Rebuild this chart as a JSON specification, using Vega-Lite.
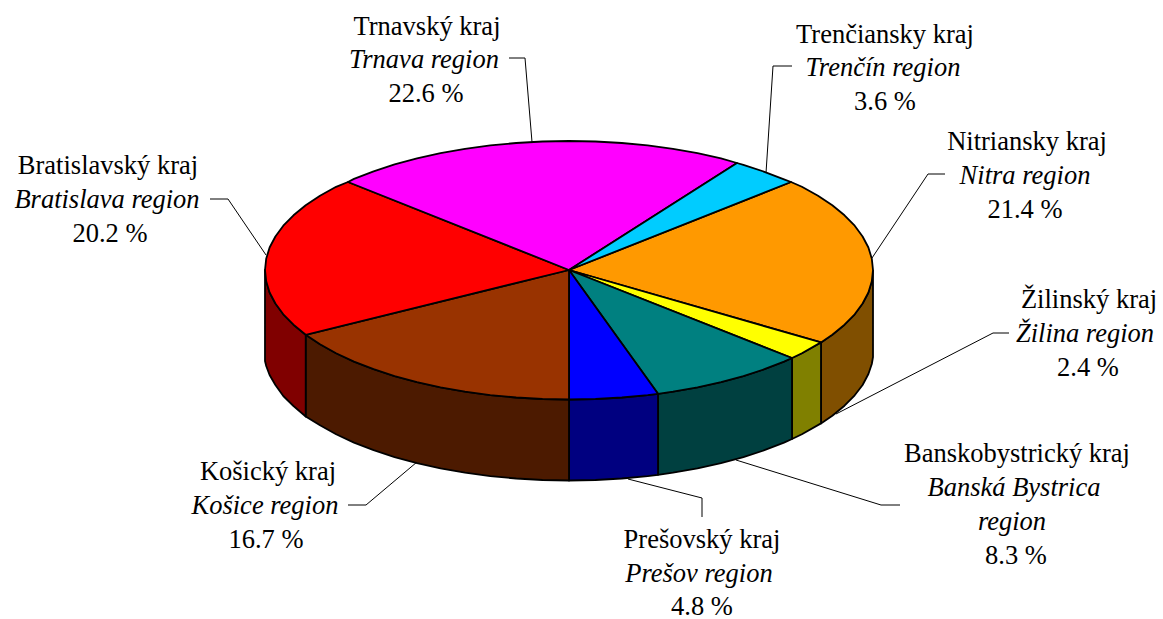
{"$schema":"https://vega.github.io/schema/vega-lite/v6.json","width":1163,"height":619,"padding":0,"autosize":{"type":"none"},"background":"white","view":{"stroke":null},
"datasets":{
"pie":[
{"s":"Nitra side","n":1,"x":873,"y":270},{"s":"Nitra side","n":2,"x":871.8,"y":281.3},{"s":"Nitra side","n":3,"x":868.4,"y":292.5},{"s":"Nitra side","n":4,"x":862.6,"y":303.5},{"s":"Nitra side","n":5,"x":854.7,"y":314.3},{"s":"Nitra side","n":6,"x":844.5,"y":324.7},{"s":"Nitra side","n":7,"x":832.3,"y":334.8},{"s":"Nitra side","n":8,"x":821,"y":342.4},{"s":"Nitra side","n":9,"x":821,"y":423.4},{"s":"Nitra side","n":10,"x":832.3,"y":415.8},{"s":"Nitra side","n":11,"x":844.5,"y":405.7},{"s":"Nitra side","n":12,"x":854.7,"y":395.3},{"s":"Nitra side","n":13,"x":862.6,"y":385},{"s":"Nitra side","n":14,"x":868.4,"y":374},{"s":"Nitra side","n":15,"x":871.8,"y":364},{"s":"Nitra side","n":16,"x":873,"y":357},{"s":"Nitra side","n":17,"x":873,"y":270},
{"s":"Zilina side","n":1,"x":821,"y":342.4},{"s":"Zilina side","n":2,"x":801.9,"y":353.2},{"s":"Zilina side","n":3,"x":792,"y":358},{"s":"Zilina side","n":4,"x":792,"y":439},{"s":"Zilina side","n":5,"x":801.9,"y":434.2},{"s":"Zilina side","n":6,"x":821,"y":423.4},{"s":"Zilina side","n":7,"x":821,"y":342.4},
{"s":"BB side","n":1,"x":792,"y":358},{"s":"BB side","n":2,"x":784,"y":361.6},{"s":"BB side","n":3,"x":764.4,"y":369.2},{"s":"BB side","n":4,"x":743.4,"y":376.1},{"s":"BB side","n":5,"x":721,"y":382.1},{"s":"BB side","n":6,"x":697.5,"y":387.4},{"s":"BB side","n":7,"x":673,"y":391.7},{"s":"BB side","n":8,"x":658,"y":393.8},{"s":"BB side","n":9,"x":658,"y":474.8},{"s":"BB side","n":10,"x":673,"y":472.7},{"s":"BB side","n":11,"x":697.5,"y":468.4},{"s":"BB side","n":12,"x":721,"y":463.1},{"s":"BB side","n":13,"x":743.4,"y":457.1},{"s":"BB side","n":14,"x":764.4,"y":450.2},{"s":"BB side","n":15,"x":784,"y":442.6},{"s":"BB side","n":16,"x":792,"y":439},{"s":"BB side","n":17,"x":792,"y":358},
{"s":"Presov side","n":1,"x":658,"y":393.8},{"s":"Presov side","n":2,"x":647.7,"y":395.1},{"s":"Presov side","n":3,"x":621.8,"y":397.5},{"s":"Presov side","n":4,"x":595.5,"y":399},{"s":"Presov side","n":5,"x":569,"y":399.5},{"s":"Presov side","n":6,"x":569,"y":480.5},{"s":"Presov side","n":7,"x":595.5,"y":480},{"s":"Presov side","n":8,"x":621.8,"y":478.5},{"s":"Presov side","n":9,"x":647.7,"y":476.1},{"s":"Presov side","n":10,"x":658,"y":474.8},{"s":"Presov side","n":11,"x":658,"y":393.8},
{"s":"Kosice side","n":1,"x":569,"y":399.5},{"s":"Kosice side","n":2,"x":542.5,"y":399},{"s":"Kosice side","n":3,"x":516.2,"y":397.5},{"s":"Kosice side","n":4,"x":490.3,"y":395.1},{"s":"Kosice side","n":5,"x":465,"y":391.7},{"s":"Kosice side","n":6,"x":440.5,"y":387.4},{"s":"Kosice side","n":7,"x":417,"y":382.1},{"s":"Kosice side","n":8,"x":394.6,"y":376.1},{"s":"Kosice side","n":9,"x":373.6,"y":369.2},{"s":"Kosice side","n":10,"x":354,"y":361.6},{"s":"Kosice side","n":11,"x":336.1,"y":353.2},{"s":"Kosice side","n":12,"x":320,"y":344.3},{"s":"Kosice side","n":13,"x":305.7,"y":334.8},{"s":"Kosice side","n":14,"x":305.7,"y":416.5},{"s":"Kosice side","n":15,"x":320,"y":425.3},{"s":"Kosice side","n":16,"x":336.1,"y":434.2},{"s":"Kosice side","n":17,"x":354,"y":442.6},{"s":"Kosice side","n":18,"x":373.6,"y":450.2},{"s":"Kosice side","n":19,"x":394.6,"y":457.1},{"s":"Kosice side","n":20,"x":417,"y":463.1},{"s":"Kosice side","n":21,"x":440.5,"y":468.4},{"s":"Kosice side","n":22,"x":465,"y":472.7},{"s":"Kosice side","n":23,"x":490.3,"y":476.1},{"s":"Kosice side","n":24,"x":516.2,"y":478.5},{"s":"Kosice side","n":25,"x":542.5,"y":480},{"s":"Kosice side","n":26,"x":569,"y":480.5},{"s":"Kosice side","n":27,"x":569,"y":399.5},
{"s":"Bratislava side","n":1,"x":305.7,"y":334.8},{"s":"Bratislava side","n":2,"x":293.5,"y":324.7},{"s":"Bratislava side","n":3,"x":283.3,"y":314.3},{"s":"Bratislava side","n":4,"x":275.4,"y":303.5},{"s":"Bratislava side","n":5,"x":269.6,"y":292.5},{"s":"Bratislava side","n":6,"x":266.2,"y":281.3},{"s":"Bratislava side","n":7,"x":265,"y":270},{"s":"Bratislava side","n":8,"x":265,"y":361},{"s":"Bratislava side","n":9,"x":266.2,"y":366},{"s":"Bratislava side","n":10,"x":269.6,"y":375},{"s":"Bratislava side","n":11,"x":275.4,"y":385},{"s":"Bratislava side","n":12,"x":283.3,"y":396},{"s":"Bratislava side","n":13,"x":293.5,"y":406},{"s":"Bratislava side","n":14,"x":305.7,"y":416.5},{"s":"Bratislava side","n":15,"x":305.7,"y":334.8},
{"s":"Nitra top","n":1,"x":569,"y":270},{"s":"Nitra top","n":2,"x":791,"y":182},{"s":"Nitra top","n":3,"x":801.9,"y":186.8},{"s":"Nitra top","n":4,"x":818,"y":195.7},{"s":"Nitra top","n":5,"x":832.3,"y":205.2},{"s":"Nitra top","n":6,"x":844.5,"y":215.3},{"s":"Nitra top","n":7,"x":854.7,"y":225.7},{"s":"Nitra top","n":8,"x":862.6,"y":236.5},{"s":"Nitra top","n":9,"x":868.4,"y":247.5},{"s":"Nitra top","n":10,"x":871.8,"y":258.7},{"s":"Nitra top","n":11,"x":873,"y":270},{"s":"Nitra top","n":12,"x":871.8,"y":281.3},{"s":"Nitra top","n":13,"x":868.4,"y":292.5},{"s":"Nitra top","n":14,"x":862.6,"y":303.5},{"s":"Nitra top","n":15,"x":854.7,"y":314.3},{"s":"Nitra top","n":16,"x":844.5,"y":324.7},{"s":"Nitra top","n":17,"x":832.3,"y":334.8},{"s":"Nitra top","n":18,"x":821,"y":342.4},{"s":"Nitra top","n":19,"x":569,"y":270},
{"s":"Zilina top","n":1,"x":569,"y":270},{"s":"Zilina top","n":2,"x":821,"y":342.4},{"s":"Zilina top","n":3,"x":801.9,"y":353.2},{"s":"Zilina top","n":4,"x":792,"y":358},{"s":"Zilina top","n":5,"x":569,"y":270},
{"s":"BB top","n":1,"x":569,"y":270},{"s":"BB top","n":2,"x":792,"y":358},{"s":"BB top","n":3,"x":784,"y":361.6},{"s":"BB top","n":4,"x":764.4,"y":369.2},{"s":"BB top","n":5,"x":743.4,"y":376.1},{"s":"BB top","n":6,"x":721,"y":382.1},{"s":"BB top","n":7,"x":697.5,"y":387.4},{"s":"BB top","n":8,"x":673,"y":391.7},{"s":"BB top","n":9,"x":658,"y":393.8},{"s":"BB top","n":10,"x":569,"y":270},
{"s":"Presov top","n":1,"x":569,"y":270},{"s":"Presov top","n":2,"x":658,"y":393.8},{"s":"Presov top","n":3,"x":647.7,"y":395.1},{"s":"Presov top","n":4,"x":621.8,"y":397.5},{"s":"Presov top","n":5,"x":595.5,"y":399},{"s":"Presov top","n":6,"x":569,"y":399.5},{"s":"Presov top","n":7,"x":569,"y":270},
{"s":"Kosice top","n":1,"x":569,"y":270},{"s":"Kosice top","n":2,"x":569,"y":399.5},{"s":"Kosice top","n":3,"x":542.5,"y":399},{"s":"Kosice top","n":4,"x":516.2,"y":397.5},{"s":"Kosice top","n":5,"x":490.3,"y":395.1},{"s":"Kosice top","n":6,"x":465,"y":391.7},{"s":"Kosice top","n":7,"x":440.5,"y":387.4},{"s":"Kosice top","n":8,"x":417,"y":382.1},{"s":"Kosice top","n":9,"x":394.6,"y":376.1},{"s":"Kosice top","n":10,"x":373.6,"y":369.2},{"s":"Kosice top","n":11,"x":354,"y":361.6},{"s":"Kosice top","n":12,"x":336.1,"y":353.2},{"s":"Kosice top","n":13,"x":320,"y":344.3},{"s":"Kosice top","n":14,"x":305.7,"y":334.8},{"s":"Kosice top","n":15,"x":569,"y":270},
{"s":"Bratislava top","n":1,"x":569,"y":270},{"s":"Bratislava top","n":2,"x":305.7,"y":334.8},{"s":"Bratislava top","n":3,"x":293.5,"y":324.7},{"s":"Bratislava top","n":4,"x":283.3,"y":314.3},{"s":"Bratislava top","n":5,"x":275.4,"y":303.5},{"s":"Bratislava top","n":6,"x":269.6,"y":292.5},{"s":"Bratislava top","n":7,"x":266.2,"y":281.3},{"s":"Bratislava top","n":8,"x":265,"y":270},{"s":"Bratislava top","n":9,"x":266.2,"y":258.7},{"s":"Bratislava top","n":10,"x":269.6,"y":247.5},{"s":"Bratislava top","n":11,"x":275.4,"y":236.5},{"s":"Bratislava top","n":12,"x":283.3,"y":225.7},{"s":"Bratislava top","n":13,"x":293.5,"y":215.3},{"s":"Bratislava top","n":14,"x":305.7,"y":205.2},{"s":"Bratislava top","n":15,"x":320,"y":195.7},{"s":"Bratislava top","n":16,"x":336.1,"y":186.8},{"s":"Bratislava top","n":17,"x":348,"y":182},{"s":"Bratislava top","n":18,"x":569,"y":270},
{"s":"Trnava top","n":1,"x":569,"y":270},{"s":"Trnava top","n":2,"x":348,"y":182},{"s":"Trnava top","n":3,"x":354,"y":178.9},{"s":"Trnava top","n":4,"x":373.6,"y":171.3},{"s":"Trnava top","n":5,"x":394.6,"y":164.4},{"s":"Trnava top","n":6,"x":417,"y":158.4},{"s":"Trnava top","n":7,"x":440.5,"y":153.1},{"s":"Trnava top","n":8,"x":465,"y":148.8},{"s":"Trnava top","n":9,"x":490.3,"y":145.4},{"s":"Trnava top","n":10,"x":516.2,"y":143},{"s":"Trnava top","n":11,"x":542.5,"y":141.5},{"s":"Trnava top","n":12,"x":569,"y":141},{"s":"Trnava top","n":13,"x":595.5,"y":141.5},{"s":"Trnava top","n":14,"x":621.8,"y":143},{"s":"Trnava top","n":15,"x":647.7,"y":145.4},{"s":"Trnava top","n":16,"x":673,"y":148.8},{"s":"Trnava top","n":17,"x":697.5,"y":153.1},{"s":"Trnava top","n":18,"x":721,"y":158.4},{"s":"Trnava top","n":19,"x":737,"y":163},{"s":"Trnava top","n":20,"x":569,"y":270},
{"s":"Trencin top","n":1,"x":569,"y":270},{"s":"Trencin top","n":2,"x":737,"y":163},{"s":"Trencin top","n":3,"x":743.4,"y":164.9},{"s":"Trencin top","n":4,"x":764.4,"y":171.8},{"s":"Trencin top","n":5,"x":784,"y":179.4},{"s":"Trencin top","n":6,"x":791,"y":182},{"s":"Trencin top","n":7,"x":569,"y":270}
],
"leaders":[
{"r":"Trnava","n":1,"x":509,"y":58},{"r":"Trnava","n":2,"x":525,"y":58},{"r":"Trnava","n":3,"x":532,"y":142},
{"r":"Bratislava","n":1,"x":210,"y":199},{"r":"Bratislava","n":2,"x":228,"y":199},{"r":"Bratislava","n":3,"x":266,"y":255},
{"r":"Trencin","n":1,"x":792,"y":66},{"r":"Trencin","n":2,"x":773,"y":66},{"r":"Trencin","n":3,"x":766,"y":173},
{"r":"Nitra","n":1,"x":945,"y":174},{"r":"Nitra","n":2,"x":928,"y":174},{"r":"Nitra","n":3,"x":872,"y":258},
{"r":"Zilina","n":1,"x":1009,"y":333},{"r":"Zilina","n":2,"x":993,"y":333},{"r":"Zilina","n":3,"x":836,"y":414},
{"r":"BB","n":1,"x":900,"y":505},{"r":"BB","n":2,"x":881,"y":505},{"r":"BB","n":3,"x":736,"y":460},
{"r":"Presov","n":1,"x":702,"y":517},{"r":"Presov","n":2,"x":702,"y":498},{"r":"Presov","n":3,"x":628,"y":479},
{"r":"Kosice","n":1,"x":348,"y":505},{"r":"Kosice","n":2,"x":366,"y":505},{"r":"Kosice","n":3,"x":417,"y":462}
],
"labels":[
{"t":"Trnavský kraj","k":"plain","x":427,"y":35},{"t":"Trnava region","k":"italic","x":424,"y":68},{"t":"22.6 %","k":"plain","x":426,"y":102},
{"t":"Trenčiansky kraj","k":"plain","x":885,"y":43},{"t":"Trenčín region","k":"italic","x":883,"y":76},{"t":"3.6 %","k":"plain","x":885,"y":110},
{"t":"Nitriansky kraj","k":"plain","x":1027,"y":150},{"t":"Nitra region","k":"italic","x":1025,"y":184},{"t":"21.4 %","k":"plain","x":1025,"y":218},
{"t":"Žilinský kraj","k":"plain","x":1089,"y":308},{"t":"Žilina region","k":"italic","x":1085,"y":342},{"t":"2.4 %","k":"plain","x":1088,"y":376},
{"t":"Banskobystrický kraj","k":"plain","x":1017,"y":462},{"t":"Banská Bystrica","k":"italic","x":1014,"y":496},{"t":"region","k":"italic","x":1012,"y":530},{"t":"8.3 %","k":"plain","x":1016,"y":564},
{"t":"Prešovský kraj","k":"plain","x":702,"y":548},{"t":"Prešov region","k":"italic","x":699,"y":582},{"t":"4.8 %","k":"plain","x":702,"y":615},
{"t":"Košický kraj","k":"plain","x":268,"y":480},{"t":"Košice region","k":"italic","x":265,"y":514},{"t":"16.7 %","k":"plain","x":266,"y":548},
{"t":"Bratislavský kraj","k":"plain","x":108,"y":174},{"t":"Bratislava region","k":"italic","x":107,"y":208},{"t":"20.2 %","k":"plain","x":110,"y":242}
]},
"encoding":{
"x":{"field":"x","type":"quantitative","scale":{"domain":[0,1163],"nice":false,"zero":false},"axis":null},
"y":{"field":"y","type":"quantitative","scale":{"domain":[619,0],"nice":false,"zero":false},"axis":null}
},
"layer":[
{"data":{"name":"leaders"},"mark":{"type":"line","stroke":"black","strokeWidth":1,"strokeJoin":"miter"},"encoding":{"detail":{"field":"r"},"order":{"field":"n","type":"quantitative"}}},
{"data":{"name":"pie"},"mark":{"type":"line","stroke":"black","strokeWidth":1.8,"strokeJoin":"round"},"encoding":{"order":{"field":"n","type":"quantitative"},"fill":{"field":"s","type":"nominal","legend":null,"scale":{"domain":["Nitra side","Zilina side","BB side","Presov side","Kosice side","Bratislava side","Nitra top","Zilina top","BB top","Presov top","Kosice top","Bratislava top","Trnava top","Trencin top"],"range":["#804F00","#808000","#004040","#000080","#4C1A00","#800000","#FF9900","#FFFF00","#008080","#0000FF","#993300","#FF0000","#FF00FF","#00CCFF"]}}}},
{"data":{"name":"labels"},"transform":[{"filter":"datum.k==='plain'"}],"mark":{"type":"text","font":"Liberation Serif","fontSize":26.5,"align":"center","baseline":"alphabetic","fill":"black"},"encoding":{"text":{"field":"t"}}},
{"data":{"name":"labels"},"transform":[{"filter":"datum.k==='italic'"}],"mark":{"type":"text","font":"Liberation Serif","fontSize":26.5,"fontStyle":"italic","align":"center","baseline":"alphabetic","fill":"black"},"encoding":{"text":{"field":"t"}}}
]}
